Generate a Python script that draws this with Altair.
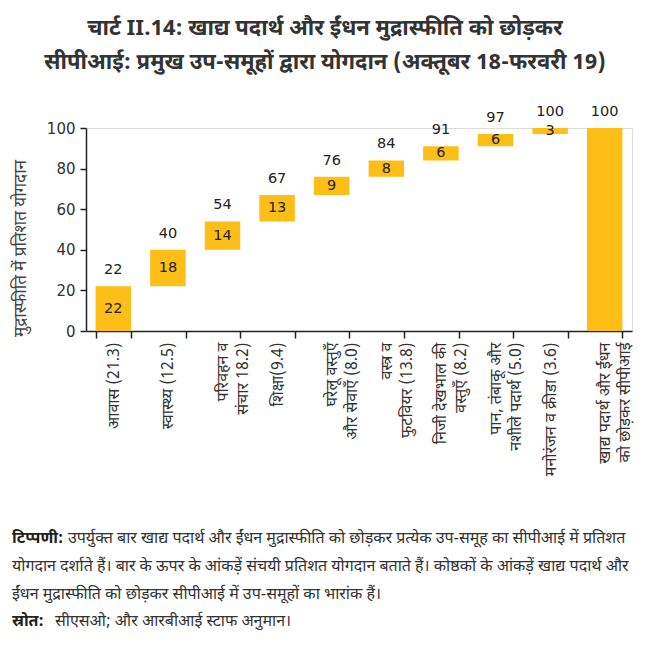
import altair as alt
import pandas as pd

# ---------------- data ----------------
categories = [
    "आवास (21.3)",
    "स्वास्थ्य (12.5)",
    "परिवहन व|संचार 18.2)",
    "शिक्षा(9.4)",
    "घरेलू वस्तुएँ|और सेवाएँ (8.0)",
    "वस्त्र व|फुटवियर (13.8)",
    "निजी देखभाल की|वस्तुएँ (8.2)",
    "पान, तंबाकू और|नशीले पदार्थ (5.0)",
    "मनोरंजन व क्रीडा (3.6)",
    "खाद्य पदार्थ और ईंधन|को छोड़कर सीपीआई",
]
cumulative = [22, 40, 54, 67, 76, 84, 91, 97, 100, 100]
contribution = ["22", "18", "14", "13", "9", "8", "6", "6", "3", ""]
is_total = [False, False, False, False, False, False, False, False, False, True]

title_lines = [
    "चार्ट II.14: खाद्य पदार्थ और ईंधन मुद्रास्फीति को छोड़कर",
    "सीपीआई: प्रमुख उप-समूहों द्वारा योगदान (अक्तूबर 18-फरवरी 19)",
]
y_title = "मुद्रास्फीति में प्रतिशत योगदान"
note_bold = "टिप्पणी:"
note_lines = [
    "उपर्युक्त बार खाद्य पदार्थ और ईंधन मुद्रास्फीति को छोड़कर प्रत्येक उप-समूह का सीपीआई में प्रतिशत",
    "योगदान दर्शाते हैं। बार के ऊपर के आंकड़ें संचयी प्रतिशत योगदान बताते हैं। कोष्ठकों के आंकड़ें खाद्य पदार्थ और",
    "ईंधन मुद्रास्फीति को छोड़कर सीपीआई में उप-समूहों का भारांक हैं।",
]
source_bold = "स्रोत:"
source_text = "सीएसओ; और आरबीआई स्टाफ अनुमान।"

# ---------------- table ----------------
starts = []
prev = 0
for c, tot in zip(cumulative, is_total):
    starts.append(0 if tot else prev)
    prev = c
df = pd.DataFrame({
    "cat": categories,
    "start": starts,
    "cum": cumulative,
    "contrib": contribution,
})
df["mid"] = (df["start"] + df["cum"]) / 2

DEV = "Noto Sans Devanagari, Lohit Devanagari, Noto Sans, sans-serif"
NUM = "DejaVu Sans"
BAR = "#FDBE17"
W, H = 546, 203

x_enc = alt.X(
    "cat:N", sort=categories,
    scale=alt.Scale(paddingInner=0.35),
    axis=alt.Axis(
        title=None, labelAngle=270, labelAlign="right", labelBaseline="middle",
        labelExpr="split(datum.label, '|')", tickBand="extent",
        labelFont=DEV, labelFontSize=16, labelColor="#333", labelPadding=4,
        tickSize=7, tickColor="#222", domainColor="#222", domainWidth=1.5,
        tickWidth=1.5, labelLineHeight=20, labelLimit=200,
    ),
)
y_scale = alt.Scale(domain=[0, 100], nice=False)

bars = alt.Chart(df).mark_bar(color=BAR).encode(
    x=x_enc,
    y=alt.Y("start:Q", scale=y_scale, axis=alt.Axis(
        values=[0, 20, 40, 60, 80, 100], grid=False, title=y_title,
        titleFont=DEV, titleFontSize=17, titleFontWeight="normal", titleColor="#444",
        titleX=-57, titleY=120, titleAngle=270,
        labelFont=NUM, labelFontSize=15, labelColor="#333", labelPadding=5,
        tickSize=6, tickColor="#222", domainColor="#222", domainWidth=1.5, tickWidth=1.5,
    )),
    y2="cum:Q",
)

top_labels = alt.Chart(df).mark_text(
    font=NUM, fontSize=14.5, color="#222", baseline="middle", dy=-16
).encode(x=alt.X("cat:N", sort=categories), y=alt.Y("cum:Q", scale=y_scale), text="cum:Q")

in_labels = alt.Chart(df).mark_text(
    font=NUM, fontSize=14.5, color="#222", baseline="middle"
).encode(x=alt.X("cat:N", sort=categories), y=alt.Y("mid:Q", scale=y_scale), text="contrib:N")

layers = [bars, top_labels, in_labels]

# title
for i, t in enumerate(title_lines):
    layers.append(
        alt.Chart(pd.DataFrame({"t": [t]})).mark_text(
            font=DEV, fontSize=22, fontWeight="bold", color="#333",
            align="center", baseline="middle"
        ).encode(x=alt.value(239), y=alt.value(-100 + 34 * i), text="t:N")
    )

# notes
note_y = [410, 438, 466]
layers.append(
    alt.Chart(pd.DataFrame({"t": [note_bold]})).mark_text(
        font=DEV, fontSize=16, fontWeight="bold", color="#222", align="left", baseline="middle"
    ).encode(x=alt.value(-74), y=alt.value(note_y[0]), text="t:N")
)
for i, t in enumerate(note_lines):
    layers.append(
        alt.Chart(pd.DataFrame({"t": [t]})).mark_text(
            font=DEV, fontSize=16, color="#333", align="left", baseline="middle"
        ).encode(x=alt.value(-18 if i == 0 else -74), y=alt.value(note_y[i]), text="t:N")
    )
layers.append(
    alt.Chart(pd.DataFrame({"t": [source_bold]})).mark_text(
        font=DEV, fontSize=16, fontWeight="bold", color="#222", align="left", baseline="middle"
    ).encode(x=alt.value(-74), y=alt.value(493), text="t:N")
)
layers.append(
    alt.Chart(pd.DataFrame({"t": [source_text]})).mark_text(
        font=DEV, fontSize=16, color="#333", align="left", baseline="middle"
    ).encode(x=alt.value(-31), y=alt.value(493), text="t:N")
)

chart = alt.layer(*layers).properties(
    width=W, height=H,
    autosize=alt.AutoSizeParams(type="none"),
    padding={"left": 78, "top": 120, "right": 10, "bottom": 318},
).configure_view(stroke=None).configure(background="white")

chart.save("out.html", embed_options={"renderer": "svg", "actions": False})
